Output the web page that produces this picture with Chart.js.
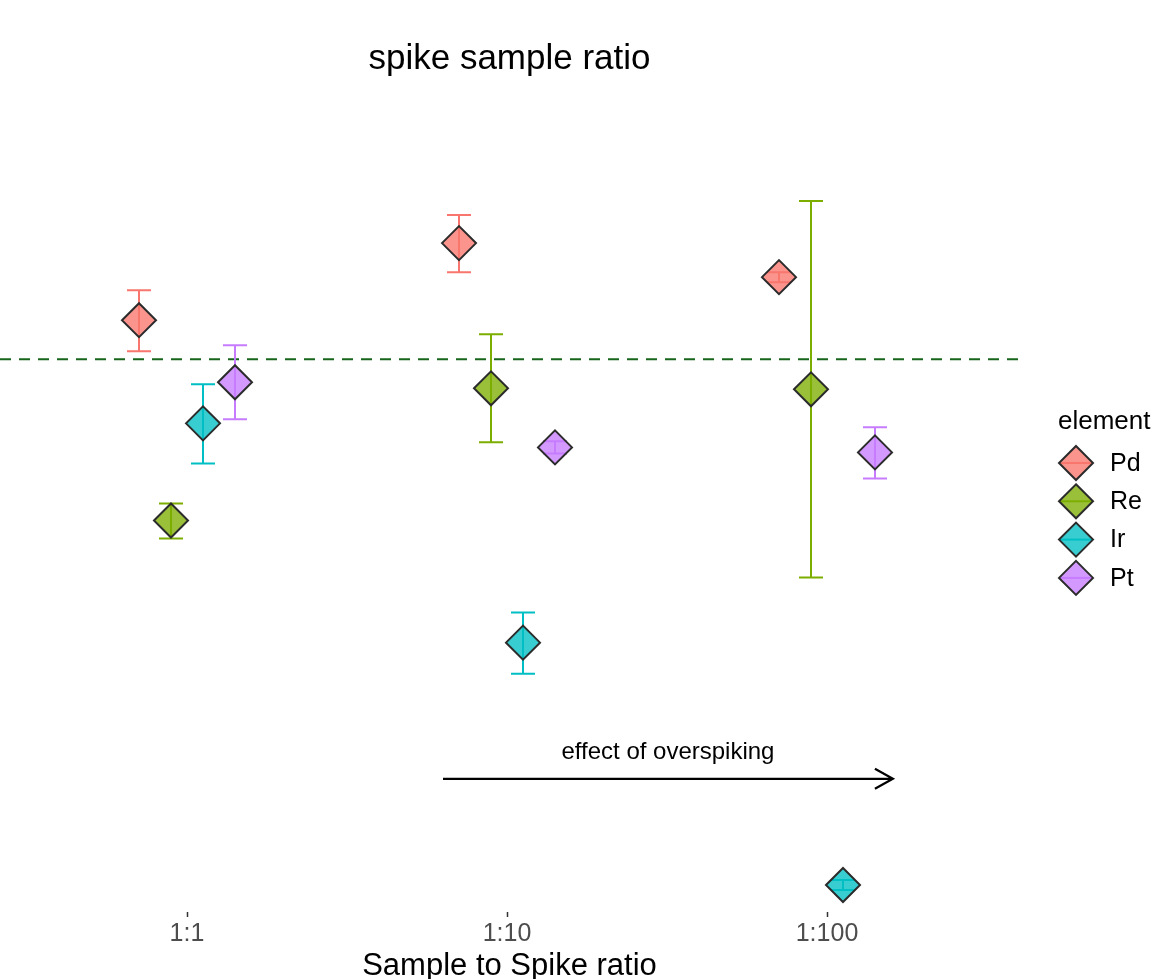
<!DOCTYPE html>
<html>
<head>
<meta charset="utf-8">
<title>spike sample ratio</title>
<script src="https://cdn.jsdelivr.net/npm/chart.js@4.4.1/dist/chart.umd.min.js"></script>
<style>
    html, body { margin: 0; padding: 0; background: #ffffff; }
    #wrap { width: 1161px; height: 979px; position: relative; }
</style>
</head>
<body>
<div id="wrap"><canvas id="myChart"></canvas></div>
<script>
const ratios = ['1:1', '1:10', '1:100'];
const elements = ['Pd', 'Re', 'Ir', 'Pt'];

const pdMean = [1.039, 1.116, 1.082];
const pdLow  = [1.008, 1.087, 1.077];
const pdHigh = [1.069, 1.144, 1.087];

const reMean = [0.839, 0.971, 0.970];
const reLow  = [0.821, 0.917, 0.782];
const reHigh = [0.856, 1.025, 1.158];

const irMean = [0.936, 0.717, 0.475];
const irLow  = [0.896, 0.686, 0.470];
const irHigh = [0.975, 0.747, 0.480];

const ptMean = [0.977, 0.912, 0.907];
const ptLow  = [0.940, 0.906, 0.881];
const ptHigh = [1.014, 0.918, 0.932];

const expectedRatio = 1;

const cores = ['#F8766D', '#7CAE00', '#00BFC4', '#C77CFF'];
const preench = ['rgba(248,118,109,0.78)', 'rgba(124,174,0,0.78)', 'rgba(0,191,196,0.78)', 'rgba(199,124,255,0.78)'];

const series = [
    { mean: pdMean, low: pdLow, high: pdHigh },
    { mean: reMean, low: reLow, high: reHigh },
    { mean: irMean, low: irLow, high: irHigh },
    { mean: ptMean, low: ptLow, high: ptHigh }
];

// position_dodge: 4 elementos por categoria
const dodge = 0.1;

const datasets = series.map((s, i) => ({
    label: elements[i],
    data: s.mean.map((v, j) => ({ x: j + 1 + (i - 1.5) * dodge, y: v, low: s.low[j], high: s.high[j] })),
    backgroundColor: preench[i],
    borderColor: '#2b2b2b',
    borderWidth: 2,
    pointStyle: 'rectRot',
    pointRadius: 17,
    pointHoverRadius: 17
}));

// barras de erro + linha tracejada
const errorBars = {
    id: 'errorBars',
    beforeDatasetsDraw(chart) {
        const { ctx, chartArea, scales: { x, y } } = chart;
        ctx.save();
        // linha de referência
        ctx.strokeStyle = '#16651a';
        ctx.lineWidth = 2;
        ctx.setLineDash([11, 8]);
        ctx.beginPath();
        ctx.moveTo(chartArea.left, y.getPixelForValue(expectedRatio));
        ctx.lineTo(chartArea.right, y.getPixelForValue(expectedRatio));
        ctx.stroke();
        ctx.setLineDash([]);

        chart.data.datasets.forEach((ds, i) => {
            ctx.strokeStyle = cores[i];
            ctx.lineWidth = 2;
            ds.data.forEach(p => {
                const px = x.getPixelForValue(p.x);
                const yl = y.getPixelForValue(p.low);
                const yh = y.getPixelForValue(p.high);
                ctx.beginPath();
                ctx.moveTo(px, yl); ctx.lineTo(px, yh);
                ctx.moveTo(px - 12, yl); ctx.lineTo(px + 12, yl);
                ctx.moveTo(px - 12, yh); ctx.lineTo(px + 12, yh);
                ctx.stroke();
            });
        });
        ctx.restore();
    }
};

// seta "effect of overspiking"
const overspike = {
    id: 'overspike',
    afterDatasetsDraw(chart) {
        const { ctx, scales: { x, y } } = chart;
        const x0 = x.getPixelForValue(1.8);
        const x1 = x.getPixelForValue(3.206);
        const ya = y.getPixelForValue(0.581);
        ctx.save();
        ctx.strokeStyle = '#000';
        ctx.lineWidth = 2.2;
        ctx.beginPath();
        ctx.moveTo(x0, ya); ctx.lineTo(x1, ya);
        ctx.moveTo(x1 - 18, ya - 10); ctx.lineTo(x1, ya); ctx.lineTo(x1 - 18, ya + 10);
        ctx.stroke();
        ctx.fillStyle = '#000';
        ctx.font = '24px "Liberation Sans", Arial, sans-serif';
        ctx.textAlign = 'center';
        ctx.textBaseline = 'middle';
        ctx.fillText('effect of overspiking', x.getPixelForValue(2.503), y.getPixelForValue(0.607));
        ctx.restore();
    }
};

// legenda no estilo ggplot
const legendaGg = {
    id: 'legendaGg',
    afterDraw(chart) {
        const { ctx } = chart;
        ctx.save();
        ctx.fillStyle = '#000';
        ctx.font = '26px "Liberation Sans", Arial, sans-serif';
        ctx.textBaseline = 'middle';
        ctx.fillText('element', 1058, 422);
        elements.forEach((el, i) => {
            const cy = 463 + i * 38.3;
            const cx = 1076;
            ctx.strokeStyle = cores[i];
            ctx.lineWidth = 2;
            ctx.beginPath();
            ctx.moveTo(cx - 16, cy); ctx.lineTo(cx + 16, cy);
            ctx.stroke();
            ctx.beginPath();
            ctx.moveTo(cx, cy - 17); ctx.lineTo(cx + 17, cy);
            ctx.lineTo(cx, cy + 17); ctx.lineTo(cx - 17, cy);
            ctx.closePath();
            ctx.fillStyle = preench[i];
            ctx.fill();
            ctx.strokeStyle = '#2b2b2b';
            ctx.stroke();
            ctx.fillStyle = '#000';
            ctx.font = '25px "Liberation Sans", Arial, sans-serif';
            ctx.fillText(el, 1110, cy + 1);
        });
        ctx.restore();
    }
};

const ctx = document.getElementById('myChart').getContext('2d');

const grafico = new Chart(ctx, {
    type: 'scatter',
    data: { datasets: datasets },
    plugins: [errorBars, overspike, legendaGg],
    options: {
        responsive: true,
        maintainAspectRatio: false,
        animation: false,
        layout: { autoPadding: false, padding: { left: 0, right: 142, top: 0, bottom: -3 } },
        scales: {
            x: {
                type: 'linear',
                min: 1 - 187 / 320,
                max: 3.6,
                afterBuildTicks: (scale) => {
                    scale.ticks = ratios.map((r, i) => ({ value: i + 1 }));
                },
                ticks: {
                    callback: (v) => ratios[Math.round(v) - 1],
                    color: '#4d4d4d',
                    padding: 5,
                    maxRotation: 0,
                    autoSkip: false,
                    font: { family: '"Liberation Sans", Arial, sans-serif', size: 25, lineHeight: 1 }
                },
                grid: { drawOnChartArea: false, drawTicks: true, tickLength: 5, tickColor: '#333', tickWidth: 1.5 },
                border: { display: false },
                title: {
                    display: true,
                    text: 'Sample to Spike ratio',
                    color: '#000',
                    padding: { top: -1, bottom: 0 },
                    font: { family: '"Liberation Sans", Arial, sans-serif', size: 31, lineHeight: 1 }
                }
            },
            y: {
                display: false,
                min: 0.448,
                max: 1.192
            }
        },
        plugins: {
            legend: { display: false },
            tooltip: { enabled: false },
            title: {
                display: true,
                text: 'spike sample ratio',
                color: '#000',
                align: 'center',
                padding: { top: 42, bottom: 90 },
                font: { family: '"Liberation Sans", Arial, sans-serif', size: 35, weight: 'normal', lineHeight: 1 }
            }
        }
    }
});
</script>
</body>
</html>
